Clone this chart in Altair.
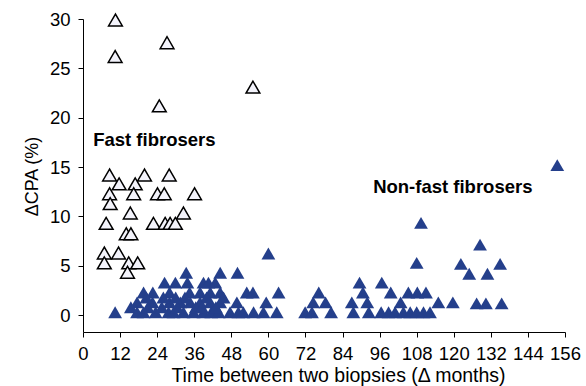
import altair as alt
import pandas as pd

# Fast fibrosers (open triangles)
fast_months = [10.5, 10.4, 27.2, 24.7, 55.0,
               8.6, 19.9, 27.9, 11.7, 16.9, 8.6, 16.4, 24.1, 26.3, 36.1,
               8.8, 15.3, 32.5, 7.5, 22.8, 26.6, 28.2, 29.9, 14.0, 15.5,
               6.9, 11.5, 6.9, 14.8, 17.7, 14.4]
fast_cpa = [29.9, 26.2, 27.6, 21.2, 23.1,
            14.2, 14.2, 14.2, 13.3, 13.3, 12.3, 12.3, 12.3, 12.3, 12.3,
            11.3, 10.35, 10.35, 9.3, 9.3, 9.3, 9.3, 9.3, 8.25, 8.25,
            6.3, 6.3, 5.3, 5.3, 5.3, 4.35]

# Non-fast fibrosers (filled triangles)
nonfast_months = [
    33.4, 44.4, 50.0,
    26.4, 29.9, 33.8, 39.0, 40.6, 42.8, 89.5, 96.7,
    19.6, 22.6, 28.0, 34.5, 37.9, 41.2, 44.4, 53.0, 55.0, 63.3, 76.3, 90.6, 99.6, 105.3, 108.2, 111.0,
    17.5, 22.5, 28.0, 31.5, 34.7, 37.9, 41.2, 44.4, 49.8, 59.3, 74.5, 78.5, 87.0, 92.0, 102.8, 115.0, 119.7,
    127.4, 130.4, 135.5,
    10.4, 17.5, 19.6, 23.5, 27.7, 29.3, 32.5, 35.8, 39.0, 41.5, 43.9, 47.6, 50.3, 51.9, 55.2, 58.4, 62.7,
    71.9, 74.1, 80.3, 87.5, 92.5, 96.5, 98.9, 101.0, 103.7, 105.9, 108.0, 110.2, 112.3,
    21.0, 30.5, 33.0, 36.5, 40.0, 15.5, 25.5, 38.5, 43.0, 20.5, 26.0, 30.0, 45.5,
    60.0, 108.0, 109.4, 122.3, 125.0, 128.5, 130.9, 135.0, 153.5]
nonfast_cpa = [
    4.3, 4.3, 4.3,
    3.3, 3.3, 3.3, 3.3, 3.3, 3.3, 3.3, 3.3,
    2.3, 2.3, 2.3, 2.3, 2.3, 2.3, 2.3, 2.3, 2.3, 2.3, 2.3, 2.3, 2.3, 2.3, 2.3, 2.3,
    1.3, 1.3, 1.3, 1.3, 1.3, 1.3, 1.3, 1.3, 1.3, 1.3, 1.3, 1.3, 1.3, 1.3, 1.3, 1.3, 1.3,
    1.2, 1.2, 1.2,
    0.3, 0.3, 0.3, 0.3, 0.3, 0.3, 0.3, 0.3, 0.3, 0.3, 0.3, 0.3, 0.3, 0.3, 0.3, 0.3, 0.3,
    0.3, 0.3, 0.3, 0.3, 0.3, 0.3, 0.3, 0.3, 0.3, 0.3, 0.3, 0.3, 0.3,
    0.8, 0.8, 1.8, 0.8, 1.8, 0.8, 0.8, 0.8, 0.8, 1.8, 1.8, 1.8, 1.8,
    6.25, 5.3, 9.35, 5.2, 4.2, 7.15, 4.2, 5.2, 15.2]

x_ticks = list(range(0, 157, 12))
y_ticks = [0, 5, 10, 15, 20, 25, 30]

fast_df = pd.DataFrame({"months": fast_months, "cpa": fast_cpa})
nonfast_df = pd.DataFrame({"months": nonfast_months, "cpa": nonfast_cpa})

FONT = "Liberation Sans"

x_scale = alt.Scale(domain=[0, 156], nice=False, zero=False)
y_scale = alt.Scale(domain=[-1.7, 30], nice=False, zero=False)
x_axis = alt.Axis(values=x_ticks, title="Time between two biopsies (\u0394 months)",
                  grid=False, domainColor="black", tickColor="black",
                  tickSize=5, labelPadding=7, titlePadding=4,
                  labelFontSize=18.5, titleFontSize=19.5, labelFont=FONT, titleFont=FONT,
                  titleFontWeight="normal", labelColor="black", titleColor="black",
                  labelFlush=False, labelOverlap=False, titleX=255)
y_axis = alt.Axis(values=y_ticks, title="\u0394CPA (%)",
                  grid=False, domainColor="black", tickColor="black",
                  tickSize=5, labelPadding=8, titlePadding=8,
                  labelFontSize=18.5, titleFontSize=18, labelFont=FONT, titleFont=FONT,
                  titleFontWeight="normal", labelColor="black", titleColor="black",
                  labelFlush=False, labelOverlap=False, titleY=157)

x_enc = alt.X("months:Q", scale=x_scale, axis=x_axis)
y_enc = alt.Y("cpa:Q", scale=y_scale, axis=y_axis)

nonfast = alt.Chart(nonfast_df).mark_point(
    shape="triangle-up", filled=True, size=190, color="#243f8b", opacity=1
).encode(x=x_enc, y=y_enc)

fast = alt.Chart(fast_df).mark_point(
    shape="triangle-up", filled=True, size=190, fill="#f3f3fb", stroke="black",
    strokeWidth=1.5, opacity=1
).encode(x=x_enc, y=y_enc)

lab1 = alt.Chart().mark_text(
    text="Fast fibrosers", font=FONT, fontSize=18.5, fontWeight="bold",
    align="left", baseline="middle", color="black"
).encode(x=alt.XDatum(3.3, type="quantitative", scale=x_scale, axis=x_axis),
         y=alt.YDatum(17.7, type="quantitative", scale=y_scale, axis=y_axis))

lab2 = alt.Chart().mark_text(
    text="Non-fast fibrosers", font=FONT, fontSize=18.5, fontWeight="bold",
    align="left", baseline="middle", color="black"
).encode(x=alt.XDatum(93.9, type="quantitative", scale=x_scale, axis=x_axis),
         y=alt.YDatum(13.0, type="quantitative", scale=y_scale, axis=y_axis))

chart = alt.layer(nonfast, fast, lab1, lab2).properties(
    width=482, height=313, autosize="none",
    padding={"left": 83, "top": 19, "right": 21, "bottom": 54}
).configure_view(stroke=None).configure_axis(labelFontWeight="normal")

chart.save("out.html", embed_options={"renderer": "svg", "actions": False})
